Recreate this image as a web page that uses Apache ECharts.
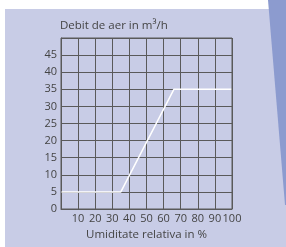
<!DOCTYPE html>
<html lang="ro">
<head>
  <meta charset="UTF-8">
  <title>debit-aer</title>
  <script src="https://cdn.jsdelivr.net/npm/echarts@6/dist/echarts.min.js"></script>
  <style>
    html, body {
      margin: 0;
      padding: 0;
      background: #fff;
    }

    #chart-main {
      width: 286px;
      height: 247px;
    }
  </style>
</head>
<body>
<div id="chart-main"></div>

<script type="text/javascript">
  // umiditate relativa (%) -> debit de aer (m3/h)
  const humidity = [0, 35, 66, 100]
  const airFlow = [5, 5, 35, 35]

  const xTicks = [10, 20, 30, 40, 50, 60, 70, 80, 90, 100]
  const yTicks = [0, 5, 10, 15, 20, 25, 30, 35, 40, 45]

  const chart = echarts.init(document.getElementById('chart-main'))

  const labelFont = {
    fontFamily: 'Open Sans',
    fontSize: 11,
    color: '#444'
  }

  const gridColor = '#5a5a5a'

  const option = {
    animation: false,
    graphic: [
      {
        type: 'rect',
        z: -10,
        shape: {x: 5, y: 9, width: 281, height: 238},
        style: {fill: '#c8cce6'}
      },
      {
        type: 'polygon',
        z: -9,
        shape: {points: [[268, 0], [286, 0], [286, 205], [285, 205]]},
        style: {fill: '#8c9bcf'}
      },
      {
        type: 'text',
        left: 60,
        top: 20,
        style: {
          text: 'Debit de aer in m³/h',
          font: '11.5px "Open Sans"',
          fill: '#444'
        }
      },
      // chenarul graficului
      {
        type: 'rect',
        z: 5,
        shape: {x: 61, y: 38, width: 171, height: 171},
        style: {fill: 'none', stroke: gridColor, lineWidth: 1}
      }
    ],
    grid: {
      left: 61,
      right: 54,
      top: 38,
      bottom: 38
    },
    xAxis: {
      type: 'value',
      min: 0,
      max: 100,
      interval: 10,
      name: 'Umiditate relativa in %',
      nameLocation: 'middle',
      nameGap: 20,
      nameTextStyle: Object.assign({}, labelFont, {fontSize: 11.5}),
      axisLabel: Object.assign({
        margin: 4,
        formatter: function (v) {
          return xTicks.indexOf(v) >= 0 ? String(v) : ''
        }
      }, labelFont),
      axisLine: {show: true, lineStyle: {color: gridColor, width: 1}},
      axisTick: {show: false},
      splitLine: {lineStyle: {color: gridColor, width: 1}}
    },
    yAxis: {
      type: 'value',
      min: 0,
      max: 50,
      interval: 5,
      axisLabel: Object.assign({
        margin: 4,
        formatter: function (v) {
          return yTicks.indexOf(v) >= 0 ? String(v) : ''
        }
      }, labelFont),
      axisLine: {show: true, lineStyle: {color: gridColor, width: 1}},
      axisTick: {show: false},
      splitLine: {lineStyle: {color: gridColor, width: 1}}
    },
    series: [{
      type: 'line',
      data: humidity.map((h, i) => [h, airFlow[i]]),
      showSymbol: false,
      lineStyle: {color: '#ffffff', width: 1.5}
    }]
  }

  chart.setOption(option)
</script>
</body>
</html>
